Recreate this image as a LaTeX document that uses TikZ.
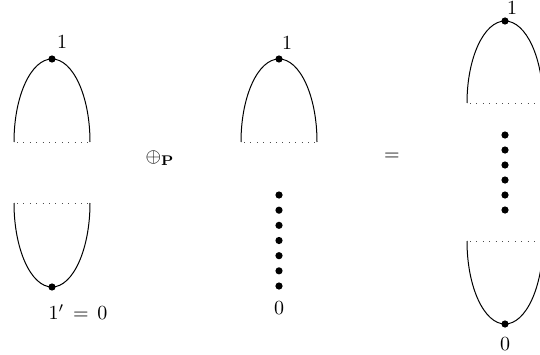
\documentclass[tikz,border=0pt]{standalone}
\usepackage{amsmath}
\begin{document}
\begin{tikzpicture}[x=0.5pt,y=0.5pt,
  curve/.style={line width=0.5pt},
  cut/.style={line width=0.4pt,black!70,dash pattern=on 0.4pt off 2.8pt},
  pt/.style={circle,fill=black,inner sep=0pt,minimum size=3.6pt},
  lbl/.style={inner sep=0pt}]
\useasboundingbox (0,0) rectangle (540,354);
% left figure
\node[pt] (l1) at (52,295) {};
\draw[curve] (14,212) arc[start angle=180,end angle=0,x radius=38,y radius=83];
\draw[cut] (17,212) -- (89,212);
\node[lbl] (l1t) at (62,312) {$1$};
\draw[cut] (17,151) -- (89,151);
\draw[curve] (14,151) arc[start angle=180,end angle=360,x radius=38,y radius=84];
\node[pt] (l0) at (52,67) {};
\node[lbl] (l0t) at (78,42) {$1'\,=\,0$};
% operator
\node[lbl] (op) at (160,196) {$\oplus_{\mathbf{P}}$};
% middle figure
\draw[curve] (241,212) arc[start angle=180,end angle=0,x radius=38,y radius=83];
\node[pt] (m1) at (279,295) {};
\draw[cut] (244,212) -- (316,212);
\node[lbl] (m1t) at (287,311) {$1$};
\foreach \i in {0,...,6} {
  \node[pt] (md\i) at (279,{159-15.17*\i}) {};
}
\node[lbl] (m0t) at (279,46) {$0$};
% equals
\node[lbl] (eq) at (392,197) {$=$};
% right figure
\draw[curve] (467,251) arc[start angle=180,end angle=0,x radius=38,y radius=82];
\node[pt] (r1) at (505,333) {};
\draw[cut] (470,251) -- (540,251);
\node[lbl] (r1t) at (512,346) {$1$};
\foreach \i in {0,...,5} {
  \node[pt] (rd\i) at (505,{219-15*\i}) {};
}
\draw[cut] (470,113) -- (540,113);
\draw[curve] (467,113) arc[start angle=180,end angle=360,x radius=38,y radius=83];
\node[pt] (r0) at (505,30) {};
\node[lbl] (r0t) at (505,10) {$0$};
\end{tikzpicture}
\end{document}
